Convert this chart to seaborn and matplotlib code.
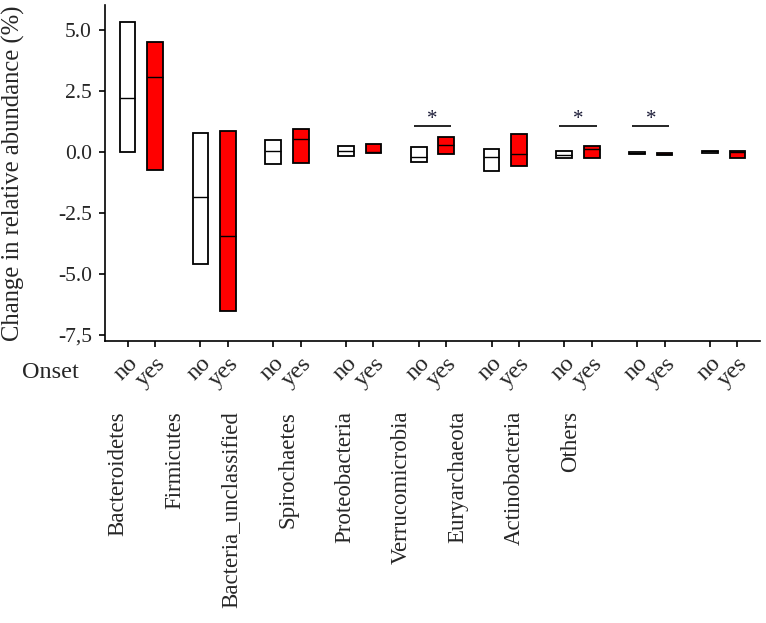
import numpy as np
import pandas as pd
import matplotlib
matplotlib.use("Agg")
import matplotlib.pyplot as plt
import seaborn as sns

# ---- data ----
phyla = ["Bacteroidetes", "Firmicutes", "Bacteria_unclassified", "Spirochaetes",
         "Proteobacteria", "Verrucomicrobia", "Euryarchaeota", "Actinobacteria", "Others"]
onset_levels = ["no", "yes"]

no_low = [0.00, -4.60, -0.50, -0.15, -0.40, -0.80, -0.27, -0.07, -0.03]
no_med = [2.20, -1.86, 0.05, 0.04, -0.22, -0.19, -0.11, -0.04, 0.02]
no_high = [5.33, 0.79, 0.49, 0.26, 0.19, 0.11, 0.05, -0.02, 0.05]

yes_low = [-0.75, -6.52, -0.44, -0.04, -0.08, -0.57, -0.27, -0.12, -0.27]
yes_med = [3.06, -3.44, 0.53, 0.00, 0.27, -0.10, 0.11, -0.08, 0.00]
yes_high = [4.52, 0.85, 0.93, 0.31, 0.63, 0.74, 0.25, -0.03, 0.05]

significant = ["Proteobacteria", "Euryarchaeota", "Actinobacteria"]

ytick_values = [-7.5, -5.0, -2.5, 0.0, 2.5, 5.0]
ytick_labels = ["-7,5", "-5.0", "-2.5", "0.0", "2.5", "5.0"]

# ---- long table: box = [low, median, high] (low/high doubled so quartiles = range) ----
rows = []
for i, p in enumerate(phyla):
    for lvl, lo, md, hi in (("no", no_low[i], no_med[i], no_high[i]),
                            ("yes", yes_low[i], yes_med[i], yes_high[i])):
        for v in (lo, lo, md, hi, hi):
            rows.append({"phylum": p, "onset": lvl, "value": v})
df = pd.DataFrame(rows)

sns.set_style("ticks")
plt.rcParams["font.family"] = ["Liberation Serif", "DejaVu Serif"]

W, H = 766, 623
fig = plt.figure(figsize=(W / 100, H / 100), dpi=100)
ax = fig.add_axes([105 / W, 1 - 341 / H, 655 / W, 336 / H])

box_width = 0.755
sns.boxplot(data=df, x="phylum", y="value", hue="onset", order=phyla,
            hue_order=onset_levels, palette={"no": "white", "yes": "#ff0000"},
            saturation=1, width=box_width, gap=0.43, whis=0, showcaps=False,
            showfliers=False, linecolor="black", linewidth=1.3,
            medianprops=dict(linewidth=1.0, color="black"),
            legend=False, ax=ax)

# significance bars
for name in significant:
    i = phyla.index(name)
    ax.plot([i - 0.255, i + 0.255], [1.05, 1.05], color="black", lw=1.2,
            solid_capstyle="butt")
    ax.text(i, 1.16, "*", ha="center", va="baseline", fontsize=15,
            color="#1c1c38")

# axes styling
ax.set_xlim(-0.5, len(phyla) - 0.5)
ax.set_ylim(-7.75, 6.02)
ax.set_yticks(ytick_values)
ax.set_yticklabels(ytick_labels, fontsize=15.5)
pos = [i + s * box_width / 4 for i in range(len(phyla)) for s in (-1, 1)]
ax.set_xticks(pos)
ax.set_xticklabels(onset_levels * len(phyla), fontsize=17.5, rotation=45,
                   ha="right", va="top", rotation_mode="anchor")
ax.tick_params(axis="both", length=4.5, width=1.2, color="black")
ax.tick_params(axis="y", pad=5)
ax.tick_params(axis="x", pad=4)
ax.set_xlabel("")
ax.set_ylabel("Change in relative abundance (%)", fontsize=17.7)
ax.yaxis.set_label_coords((25 - 105) / 655, 0.5)
for s in ("top", "right"):
    ax.spines[s].set_visible(False)
for s in ("left", "bottom"):
    ax.spines[s].set_linewidth(1.2)
    ax.spines[s].set_color("black")

fig.text(50 / W, 1 - 373 / H, "Onset", ha="center", va="center", fontsize=17.5)

label_x = np.linspace(118, 571, len(phyla))
for x, name in zip(label_x, phyla):
    fig.text(x / W, 1 - 411 / H, name, rotation=90, ha="center", va="top",
             fontsize=16.5)

fig.savefig("out.png", dpi=100)
